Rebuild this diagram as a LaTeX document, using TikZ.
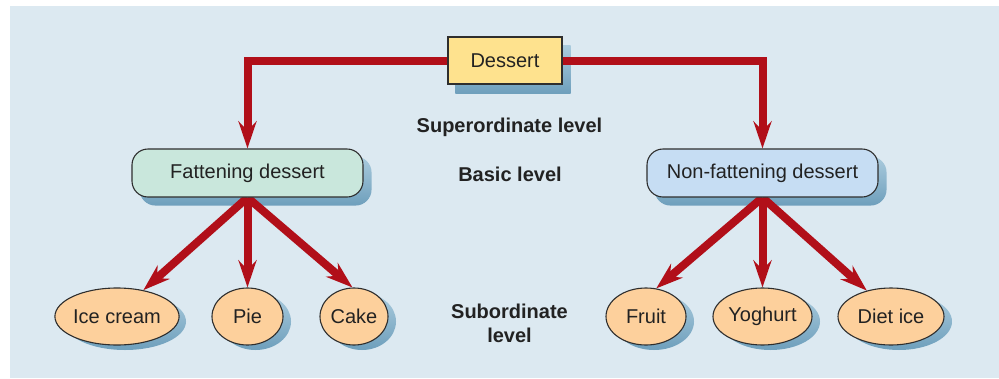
\documentclass[tikz,border=0pt]{standalone}
\usepackage{fontspec}
\setmainfont{Liberation Sans}
\usetikzlibrary{arrows.meta,shapes.geometric}
\definecolor{bgc}{HTML}{DCE9F1}
\definecolor{redc}{HTML}{B10F19}
\definecolor{yel}{HTML}{FEE28E}
\definecolor{mint}{HTML}{C9E7DC}
\definecolor{lblue}{HTML}{C6DDF3}
\definecolor{peach}{HTML}{FDD09C}
\definecolor{shtop}{HTML}{AACBDD}
\definecolor{shbot}{HTML}{6E9FBC}
\definecolor{edge}{HTML}{2E2E2E}
\definecolor{ink}{HTML}{222222}
\pgfdeclarelayer{bg}\pgfdeclarelayer{shadow}\pgfdeclarelayer{arr}
\pgfsetlayers{bg,shadow,arr,main}
\tikzset{
 txt/.style={font=\fontsize{20}{23}\selectfont, text=ink},
 box/.style={txt, draw=edge, line width=1.1pt, inner sep=0pt},
 sqbox/.style={box, rectangle, fill=yel, minimum width=114pt, minimum height=47pt},
 pill/.style={box, rectangle, rounded corners=16pt, minimum width=231pt, minimum height=48pt},
 oval/.style={box, ellipse, fill=peach, minimum height=57pt},
 conn/.style={draw=redc, line width=8pt, -{Stealth[length=27pt,width=18pt,inset=9pt]}},
 lvl/.style={font=\fontsize{20}{24}\selectfont\bfseries, text=ink, anchor=base, inner sep=0pt},
 shd/.style={top color=shtop, bottom color=shbot, draw=none},
}
\begin{document}
\begin{tikzpicture}[x=1pt,y=-1pt]
\useasboundingbox (0,0) rectangle (999,378);
\begin{pgfonlayer}{bg}
\fill[bgc] (10,6) rectangle (999,378);
\end{pgfonlayer}

% nodes
\node[sqbox] (d) at (505,60.5) {Dessert};
\node[pill, fill=mint] (f) at (247.5,173) {Fattening dessert};
\node[pill, fill=lblue] (nf) at (762.5,173) {Non-fattening dessert};
\node[oval, minimum width=122pt] (ice) at (117,316.5) {Ice cream};
\node[oval, minimum width=71pt] (pie) at (247.5,316.5) {Pie};
\node[oval, minimum width=68pt] (cake) at (354,316.5) {Cake};
\node[oval, minimum width=80pt] (fruit) at (646,316.5) {Fruit};
\node[oval, minimum width=99pt] (yog) at (762.5,316.5) {Yoghurt};
\node[oval, minimum width=106pt] (diet) at (891,316.5) {Diet ice};

% level labels
\node[lvl] (sup) at (509.5,132) {Superordinate level};
\node[lvl] (bas) at (510,181) {Basic level};
\node[lvl] (sub1) at (509.5,318) {Subordinate};
\node[lvl] (sub2) at (509.5,342) {level};

% shadows
\begin{pgfonlayer}{shadow}
\shade[shd] ([shift={(8,9)}]d.north west) rectangle ([shift={(8,9)}]d.south east);
\shade[shd, rounded corners=16pt] ([shift={(8,8)}]f.north west) rectangle ([shift={(8,8)}]f.south east);
\shade[shd, rounded corners=16pt] ([shift={(8,8)}]nf.north west) rectangle ([shift={(8,8)}]nf.south east);
\shade[shd] ([shift={(8,5)}]ice.center) ellipse [x radius=61pt, y radius=28.5pt];
\shade[shd] ([shift={(8,5)}]pie.center) ellipse [x radius=35.5pt, y radius=28.5pt];
\shade[shd] ([shift={(8,5)}]cake.center) ellipse [x radius=34pt, y radius=28.5pt];
\shade[shd] ([shift={(8,5)}]fruit.center) ellipse [x radius=40pt, y radius=28.5pt];
\shade[shd] ([shift={(8,5)}]yog.center) ellipse [x radius=49.5pt, y radius=28.5pt];
\shade[shd] ([shift={(8,5)}]diet.center) ellipse [x radius=53pt, y radius=28.5pt];
\end{pgfonlayer}

% connectors
\begin{pgfonlayer}{arr}
\draw[conn] (d.west) -| (f.north);
\draw[conn] (d.east) -| (nf.north);
\draw[conn] (f.south) -- (ice.45);
\draw[conn] (f.south) -- (pie.north);
\draw[conn] (f.south) -- (cake.93);
\draw[conn] (nf.south) -- (fruit.70);
\draw[conn] (nf.south) -- (yog.north);
\draw[conn] (nf.south) -- (diet.133);
\end{pgfonlayer}
\end{tikzpicture}
\end{document}
